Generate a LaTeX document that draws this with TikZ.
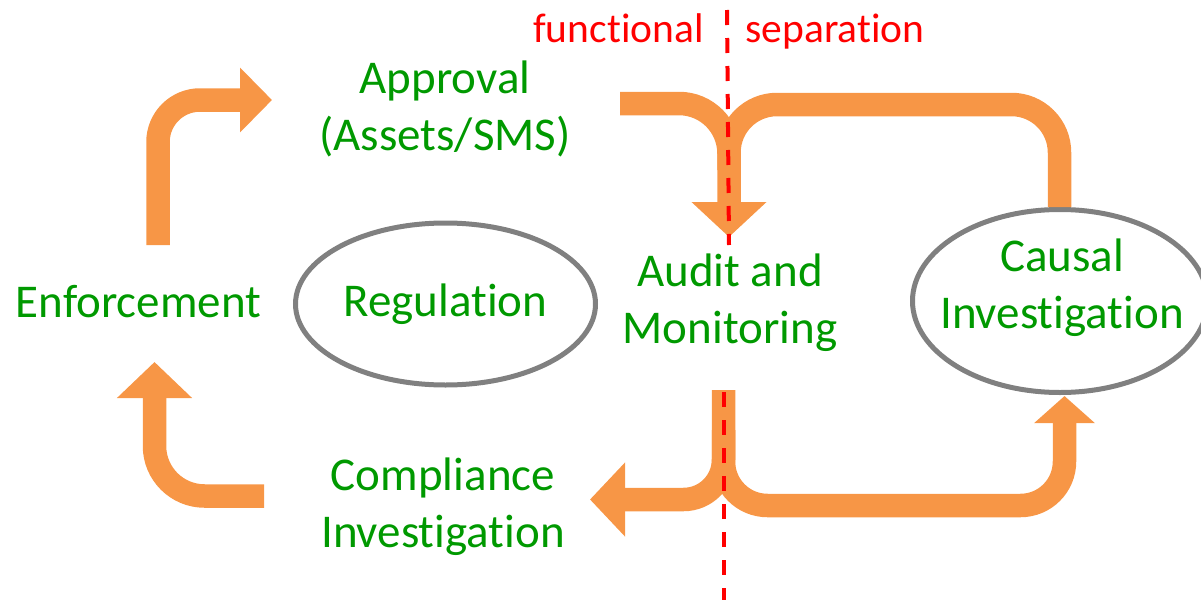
\documentclass[tikz,border=0pt]{standalone}
\usepackage{fontspec}
\setmainfont{Carlito}[Ligatures=NoCommon]
\usetikzlibrary{arrows.meta,shapes.geometric}
\definecolor{flow}{RGB}{247,150,70}
\definecolor{lblgreen}{RGB}{0,153,0}
\definecolor{ringgray}{RGB}{128,128,128}
\begin{document}
\begin{tikzpicture}[x=0.5pt,y=-0.5pt,
  flowline/.style={draw=flow, line width=11.75pt},
  lblfont/.style={text=lblgreen, font=\fontsize{23.5pt}{28.25pt}\selectfont},
  lbl/.style={lblfont, align=center, inner sep=0pt, anchor=base},
  septext/.style={text=red, font=\fontsize{20.75pt}{25pt}\selectfont, inner sep=0pt, anchor=base},
  ring/.style={ellipse, draw=ringgray, line width=2.5pt, inner sep=0pt},
  divider/.style={draw=red, line width=2pt, dash pattern=on 7.5pt off 6.5pt}]
\useasboundingbox (0,0) rectangle (1201,600);

% cycle stages (multi-line labels are placed by their last baseline)
\node[lbl] (enf) at (138.5,317) {Enforcement};
\node[lbl] (appr) at (445,150) {Approval\\(Assets/SMS)};
\node[lbl] (audit) at (730,343) {Audit and\\Monitoring};
\node[lbl] (comp) at (443,547) {Compliance\\Investigation};
\node[ring, lblfont, minimum width=150pt, minimum height=81pt] (reg) at (445.5,304) {Regulation};
\node[ring, minimum width=147.5pt, minimum height=91.5pt] (causal) at (1060,301) {};
\node[lbl] (causaltxt) at (1062,328) {Causal\\Investigation};

% arrow end points
\coordinate (enfOut) at (158,245);
\coordinate (apprIn) at (272,100);
\coordinate (compOut) at (264,496);
\coordinate (enfIn) at (154.5,362);
\coordinate (apprOut) at (620,103.5);
\coordinate (auditIn) at (729,237);
\coordinate (causalOut) at (1059.5,207);
\coordinate (joinTop) at (729,170);
\coordinate (auditOut) at (723.5,390);
\coordinate (joinBot) at (723.5,430);
\coordinate (compIn) at (590,499.5);
\coordinate (causalIn) at (1064.5,396);

% flow arrows
\draw[flowline, -{Triangle[length=16pt,width=31.5pt]}, rounded corners=21pt]
  (enfOut) -- (enfOut |- apprIn) -- (apprIn);
\draw[flowline, -{Triangle[length=18pt,width=36.5pt]}, rounded corners=25pt]
  (compOut) -- (enfIn |- compOut) -- (enfIn);
\draw[flowline, -{Triangle[length=17.5pt,width=36.5pt]}, rounded corners=25pt]
  (apprOut) -- (auditIn |- apprOut) -- (auditIn);
\draw[flowline, rounded corners=24pt]
  (causalOut) -- (1059.5,104.5) -- (729,104.5) -- (joinTop);
\draw[flowline, -{Triangle[length=17.5pt,width=36pt]}, rounded corners=20pt]
  (auditOut) -- (auditOut |- compIn) -- (compIn);
\draw[flowline, -{Triangle[length=13.5pt,width=29.5pt]}, rounded corners=22pt]
  (joinBot) -- (723.5,505.5) -- (1064.5,505.5) -- (causalIn);

% functional separation line
\coordinate (sepTop) at (727,10);
\coordinate (sepMidA) at (729,245);
\coordinate (sepMidB) at (723.5,392);
\coordinate (sepBot) at (723.5,600);
\draw[divider] (sepTop) -- (sepMidA);
\draw[divider] (sepMidB) -- (sepBot);
\node[septext] (func) at (618.5,42) {functional};
\node[septext] (separ) at (835,42) {separation};
\end{tikzpicture}
\end{document}
